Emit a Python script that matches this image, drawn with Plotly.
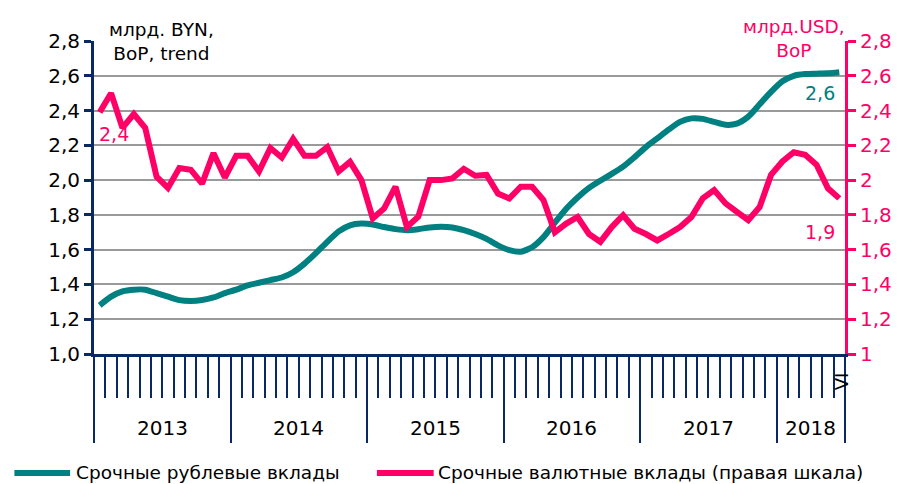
import plotly.graph_objects as go

# ---- data (Jan 2013 .. Jun 2018, monthly) ----
years = ["2013", "2014", "2015", "2016", "2017", "2018"]
months_per_year = [12, 12, 12, 12, 12, 6]
last_month_label = "VI"

rub_deposits = [1.28, 1.33, 1.36, 1.37, 1.37, 1.35, 1.33, 1.31, 1.305, 1.31, 1.325, 1.35,
                1.37, 1.395, 1.41, 1.425, 1.44, 1.47, 1.52, 1.58, 1.645, 1.705, 1.74, 1.75,
                1.745, 1.73, 1.718, 1.712, 1.718, 1.728, 1.732, 1.728, 1.712, 1.69, 1.662, 1.625,
                1.597, 1.588, 1.614, 1.672, 1.755, 1.835, 1.90, 1.955, 1.997, 2.036, 2.078, 2.132,
                2.19, 2.24, 2.29, 2.335, 2.355, 2.352, 2.335, 2.318, 2.325, 2.365, 2.436, 2.507,
                2.568, 2.60, 2.61, 2.612, 2.614, 2.62]

fx_deposits = [2.39, 2.50, 2.30, 2.38, 2.30, 2.02, 1.955, 2.07, 2.06, 1.98, 2.155, 2.015,
               2.14, 2.14, 2.05, 2.185, 2.13, 2.237, 2.14, 2.14, 2.19, 2.05, 2.105, 2.0,
               1.78, 1.837, 1.962, 1.73, 1.79, 2.0, 2.0, 2.01, 2.065, 2.025, 2.03, 1.923,
               1.895, 1.962, 1.962, 1.885, 1.70, 1.75, 1.788, 1.69, 1.645, 1.73, 1.798, 1.72,
               1.69, 1.653, 1.69, 1.73, 1.788, 1.895, 1.943, 1.866, 1.817, 1.77, 1.846, 2.03,
               2.107, 2.16, 2.146, 2.088, 1.953, 1.895]

left_ticks = [1.0, 1.2, 1.4, 1.6, 1.8, 2.0, 2.2, 2.4, 2.6, 2.8]
left_ticktext = ["1,0", "1,2", "1,4", "1,6", "1,8", "2,0", "2,2", "2,4", "2,6", "2,8"]
right_ticktext = ["1", "1,2", "1,4", "1,6", "1,8", "2", "2,2", "2,4", "2,6", "2,8"]

series_names = ["Срочные рублевые вклады", "Срочные валютные вклады (правая шкала)"]

TEAL = "#008080"
PINK = "#ff0066"
NAVY = "#0a2864"
FONT = "DejaVu Sans"

n = len(rub_deposits)
x = list(range(n))

# category boundaries
boundaries = [i - 0.5 for i in range(n + 1)]
year_edges = [-0.5]
for m in months_per_year:
    year_edges.append(year_edges[-1] + m)
year_centers = [(year_edges[k] + year_edges[k + 1]) / 2 for k in range(len(years))]

fig = go.Figure()
fig.add_trace(go.Scatter(x=x, y=rub_deposits, mode="lines", name=series_names[0],
                         line=dict(color=TEAL, width=6, shape="spline", smoothing=0.6),
                         yaxis="y", showlegend=False))
fig.add_trace(go.Scatter(x=x, y=fx_deposits, mode="lines", name=series_names[1],
                         line=dict(color=PINK, width=6),
                         yaxis="y2", showlegend=False))

def fmt(v):
    return f"{v:.1f}".replace(".", ",")

annotations = []
# year labels
for yr, xc in zip(years, year_centers):
    annotations.append(dict(x=xc, y=-0.235, xref="x", yref="paper", text=yr, showarrow=False,
                            font=dict(family=FONT, size=20, color="black"),
                            xanchor="center", yanchor="middle"))
annotations.append(dict(x=x[-1], y=-0.086, xref="x", yref="paper", text=last_month_label,
                        showarrow=False, textangle=-90, xshift=3,
                        font=dict(family=FONT, size=18, color="black"),
                        xanchor="center", yanchor="middle"))
# data labels
annotations.append(dict(x=x[0], y=fx_deposits[0], xref="x", yref="y2", text=fmt(fx_deposits[0]),
                        showarrow=False, xanchor="left", yanchor="middle", xshift=-3, yshift=-22,
                        font=dict(family=FONT, size=19, color=PINK)))
annotations.append(dict(x=x[-1], y=rub_deposits[-1], xref="x", yref="y", text=fmt(rub_deposits[-1]),
                        showarrow=False, xanchor="right", yanchor="middle", xshift=-2, yshift=-21,
                        font=dict(family=FONT, size=19, color=TEAL)))
annotations.append(dict(x=x[-1], y=fx_deposits[-1], xref="x", yref="y2", text=fmt(fx_deposits[-1]),
                        showarrow=False, xanchor="right", yanchor="middle", xshift=-2, yshift=-34,
                        font=dict(family=FONT, size=19, color=PINK)))
# axis titles
annotations.append(dict(x=0.09, y=0.998, xref="paper", yref="paper",
                        text="млрд. BYN,<br>BoP, trend", showarrow=False, align="center",
                        xanchor="center", yanchor="middle",
                        font=dict(family=FONT, size=18.5, color="black")))
annotations.append(dict(x=0.932, y=1.008, xref="paper", yref="paper",
                        text="млрд.USD,<br>BoP", showarrow=False, align="center",
                        xanchor="center", yanchor="middle",
                        font=dict(family=FONT, size=18.5, color=PINK)))
# manual legend
leg_y = -0.380
annotations.append(dict(x=-0.0265, y=leg_y, xref="paper", yref="paper", text=series_names[0],
                        showarrow=False, xanchor="left", yanchor="middle",
                        font=dict(family=FONT, size=18.5, color="black")))
annotations.append(dict(x=0.455, y=leg_y, xref="paper", yref="paper", text=series_names[1],
                        showarrow=False, xanchor="left", yanchor="middle",
                        font=dict(family=FONT, size=18.5, color="black")))

shapes = [
    dict(type="line", xref="paper", yref="paper", x0=-0.106, x1=-0.0318, y0=leg_y, y1=leg_y,
         line=dict(color=TEAL, width=6)),
    dict(type="line", xref="paper", yref="paper", x0=0.3767, x1=0.4523, y0=leg_y, y1=leg_y,
         line=dict(color=PINK, width=6)),
]

fig.update_layout(
    width=904, height=484,
    margin=dict(l=94, r=56, t=41, b=130),
    paper_bgcolor="white", plot_bgcolor="white",
    font=dict(family=FONT, size=20, color="black"),
    xaxis=dict(range=[-0.5, n - 0.5], tickmode="array", tickvals=year_edges,
               ticks="outside", ticklen=86, tickwidth=2, tickcolor=NAVY,
               showticklabels=False, showgrid=False, zeroline=False,
               showline=True, linecolor=NAVY, linewidth=3,
               minor=dict(tickmode="array", tickvals=boundaries, ticks="outside",
                          ticklen=41, tickwidth=2, tickcolor=NAVY, showgrid=False)),
    yaxis=dict(range=[1.0, 2.8], tickmode="array", tickvals=left_ticks, ticktext=left_ticktext,
               ticks="outside", ticklen=7, tickwidth=3, tickcolor=NAVY,
               showline=True, linecolor=NAVY, linewidth=3,
               showgrid=True, gridcolor="#9a9a9a", gridwidth=1.5, zeroline=False,
               tickfont=dict(family=FONT, size=20, color="black")),
    yaxis2=dict(range=[1.0, 2.8], overlaying="y", side="right", tickmode="array",
                tickvals=left_ticks, ticktext=right_ticktext,
                ticks="outside", ticklen=8, tickwidth=3, tickcolor=PINK,
                showline=True, linecolor=PINK, linewidth=3,
                showgrid=False, zeroline=False,
                tickfont=dict(family=FONT, size=20, color=PINK)),
    annotations=annotations,
    shapes=shapes,
    showlegend=False,
)

fig.write_html("out.html", config={"displayModeBar": False},
               post_script="document.body.style.margin='0';document.body.style.overflow='hidden';")
